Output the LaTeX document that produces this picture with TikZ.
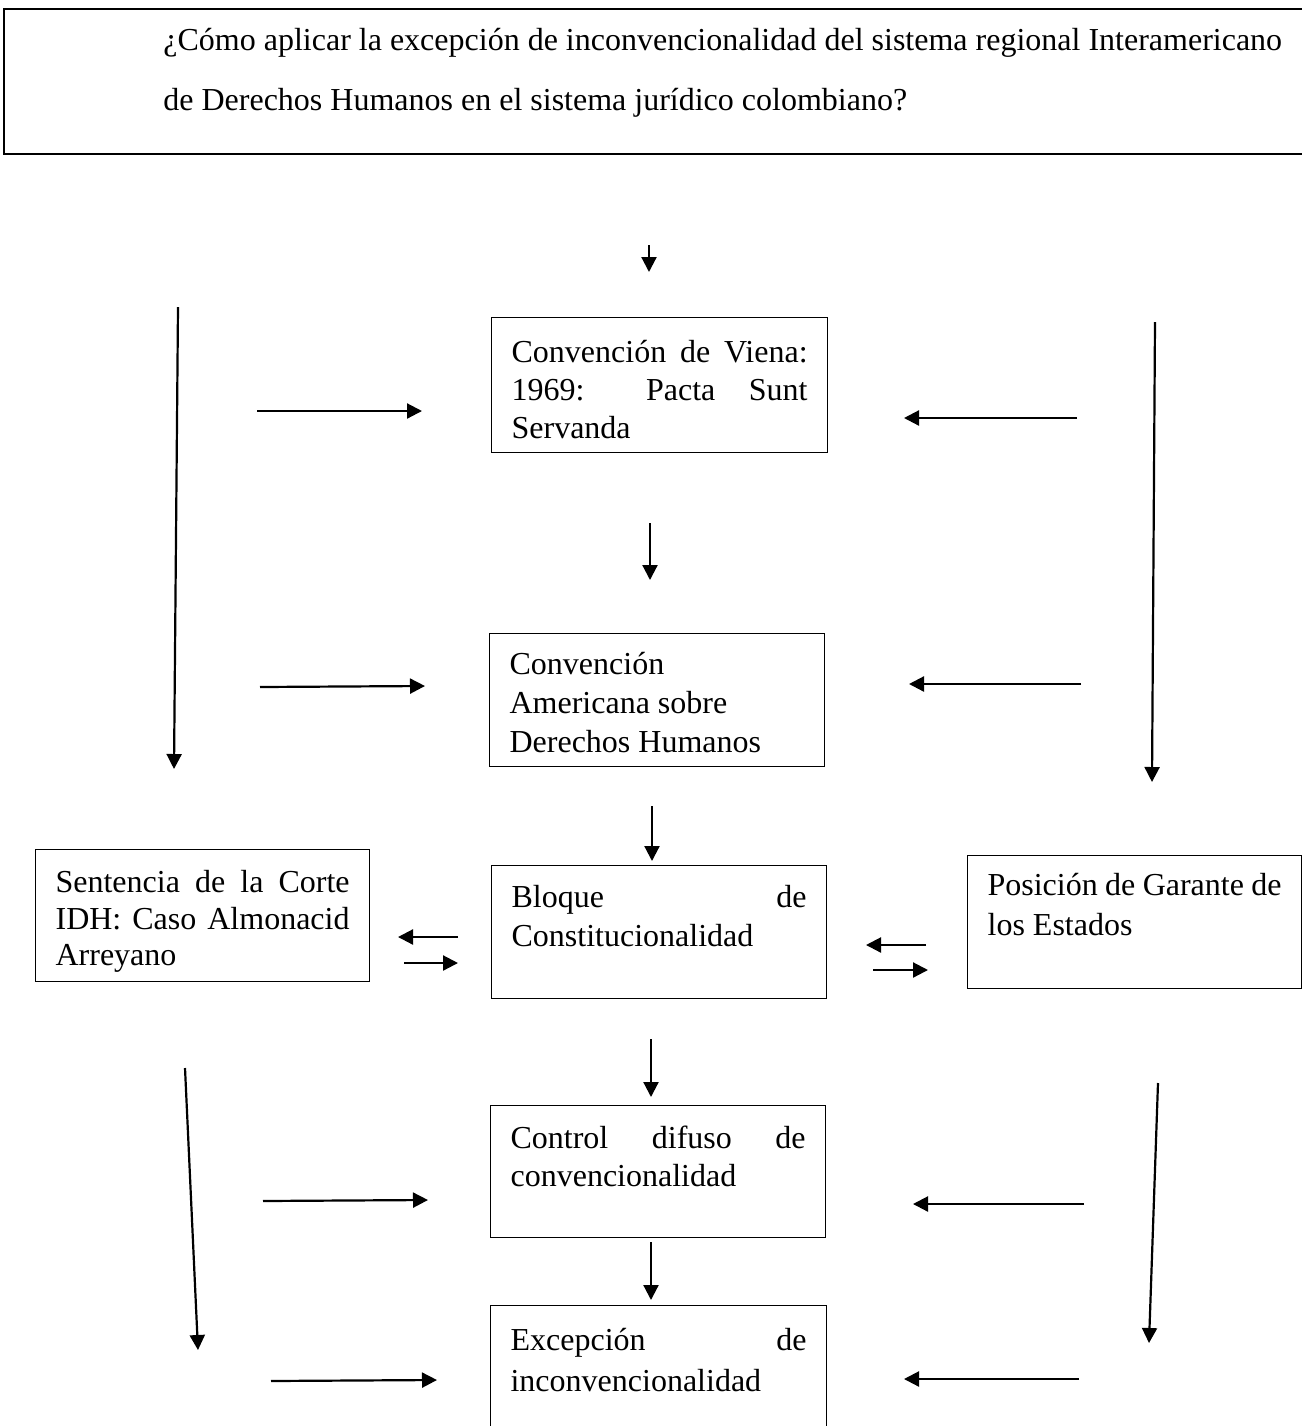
\documentclass[tikz,border=0pt]{standalone}
\usepackage{fontspec}
\setmainfont{Liberation Serif}
\usetikzlibrary{arrows.meta}
\begin{document}
\begin{tikzpicture}[x=0.5pt,y=-0.5pt,
  every node/.style={font=\fontsize{16pt}{19pt}\selectfont},
  flowbox/.style 2 args={draw, line width=0.6pt, anchor=north west, inner xsep=10pt, inner ysep=0pt,
    text width=#1, align=justify, font=\fontsize{16pt}{#2}\selectfont},
  arr/.style={line width=1.1pt, -{Triangle[length=7.5pt,width=7.5pt]}}]
\useasboundingbox (0,0) rectangle (1302,1426);
% title box
\node[draw, line width=1pt, anchor=north west, minimum width=665pt, minimum height=72.5pt, inner sep=0pt] (q) at (3,8) {};
\node[anchor=base west, inner sep=0pt, align=left, font=\fontsize{16pt}{30pt}\selectfont] (qt) at (163,110)
  {¿Cómo aplicar la excepción de inconvencionalidad del sistema regional Interamericano\\de Derechos Humanos en el sistema jurídico colombiano?};
% boxes
\node[flowbox={148pt}{19pt}, text height=22.5pt, text depth=45pt] (b1) at (491,317)
  {Convención de Viena:\linebreak 1969: Pacta Sunt\linebreak Servanda};
\node[flowbox={147.5pt}{19.5pt}, text height=20.5pt, text depth=46pt] (b2) at (489,633)
  {Convención\\Americana sobre\\Derechos Humanos};
\node[flowbox={147.5pt}{19.5pt}, text height=21pt, text depth=45.5pt] (b3) at (491,865)
  {Bloque de\linebreak Constitucionalidad};
\node[flowbox={147.5pt}{19pt}, text height=21.5pt, text depth=44.5pt] (b4) at (490,1105)
  {Control difuso de\linebreak convencionalidad};
\node[flowbox={148pt}{20.5pt}, text height=22.5pt, text depth=45pt] (b5) at (490,1305)
  {Excepción de\linebreak inconvencionalidad};
\node[flowbox={147pt}{18.25pt}, text height=21.5pt, text depth=44.5pt] (bl) at (35,849)
  {Sentencia de la Corte\linebreak IDH: Caso Almonacid\linebreak Arreyano};
\node[flowbox={147pt}{20pt}, text height=20pt, text depth=46.5pt] (br) at (967,855)
  {Posición de Garante de\linebreak los Estados};
% arrow end points
\coordinate (t0) at (649,245); \coordinate (t1) at (649,272);
\coordinate (v1a) at (650,523); \coordinate (v1b) at (650,580);
\coordinate (v2a) at (652,806); \coordinate (v2b) at (652,861);
\coordinate (v3a) at (651,1039); \coordinate (v3b) at (651,1097);
\coordinate (v4a) at (651,1242); \coordinate (v4b) at (651,1300);
\coordinate (la0) at (178,307); \coordinate (la1) at (174,769);
\coordinate (lb0) at (185,1068); \coordinate (lb1) at (198,1350);
\coordinate (ra0) at (1155,322); \coordinate (ra1) at (1152,782);
\coordinate (rb0) at (1158,1083); \coordinate (rb1) at (1149,1343);
\coordinate (lh1a) at (257,411); \coordinate (lh1b) at (422,411);
\coordinate (lh2a) at (260,687); \coordinate (lh2b) at (425,686);
\coordinate (lh3a) at (263,1201); \coordinate (lh3b) at (428,1200);
\coordinate (lh4a) at (271,1381); \coordinate (lh4b) at (437,1380);
\coordinate (rh1a) at (1077,418); \coordinate (rh1b) at (904,418);
\coordinate (rh2a) at (1081,684); \coordinate (rh2b) at (909,684);
\coordinate (rh3a) at (1084,1204); \coordinate (rh3b) at (913,1204);
\coordinate (rh4a) at (1079,1379); \coordinate (rh4b) at (904,1379);
\coordinate (dl1a) at (458,937); \coordinate (dl1b) at (398,937);
\coordinate (dl2a) at (404,963); \coordinate (dl2b) at (458,963);
\coordinate (dr1a) at (926,945); \coordinate (dr1b) at (866,945);
\coordinate (dr2a) at (873,970); \coordinate (dr2b) at (928,970);
% arrows
\foreach \a/\b in {t0/t1,v1a/v1b,v2a/v2b,v3a/v3b,v4a/v4b,la0/la1,lb0/lb1,ra0/ra1,rb0/rb1,
  lh1a/lh1b,lh2a/lh2b,lh3a/lh3b,lh4a/lh4b,rh1a/rh1b,rh2a/rh2b,rh3a/rh3b,rh4a/rh4b,
  dl1a/dl1b,dl2a/dl2b,dr1a/dr1b,dr2a/dr2b}
  \draw[arr] (\a) -- (\b);
\end{tikzpicture}
\end{document}
